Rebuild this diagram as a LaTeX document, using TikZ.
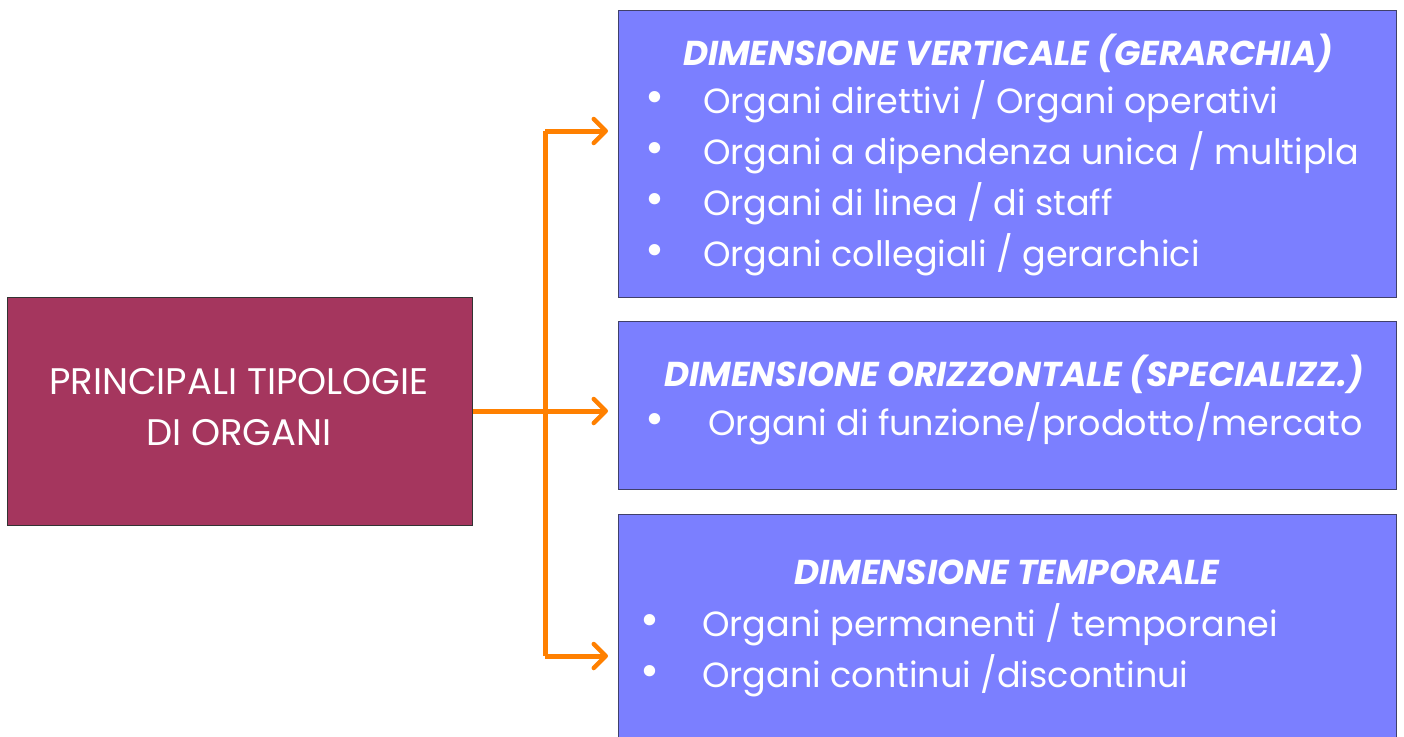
\documentclass[tikz,border=0pt]{standalone}
\usepackage{fontspec}
\setmainfont{Poppins}
\usetikzlibrary{arrows.meta}
\definecolor{wine}{HTML}{A5365E}
\definecolor{lilac}{HTML}{7B7FFF}
\definecolor{edgeblue}{HTML}{40406A}
\definecolor{arroworange}{HTML}{FF8000}
\tikzset{
  bluebox/.style={draw=edgeblue,line width=1.2pt,fill=lilac},
  title/.style={text=white,font=\fontsize{34.5}{40}\selectfont\bfseries\itshape,inner sep=0pt},
  item/.style={text=white,font=\fontsize{35}{42}\selectfont,inner sep=0pt,anchor=west},
  bul/.style={text=white,font=\fontsize{46}{50}\selectfont,inner sep=0pt},
  conn/.style={draw=arroworange,line width=5pt},
  arr/.style={conn,-{Straight Barb[length=12pt,width=24pt,line width=4.5pt,round]}}
}
\begin{document}
\begin{tikzpicture}[x=1pt,y=-1pt]
\useasboundingbox (0,0) rectangle (1404,736);
% left box
\node[draw=black!80,line width=1.2pt,fill=wine,minimum width=465pt,minimum height=228pt,anchor=north west,inner sep=0pt] (main) at (7,297) {};
\node[text=white,font=\fontsize{37}{51}\selectfont,align=center,inner sep=0pt] (maintext) at (239,407) {PRINCIPALI TIPOLOGIE\\DI ORGANI};
% blue boxes
\node[bluebox,minimum width=778pt,minimum height=287pt,anchor=north west,inner sep=0pt] (b1) at (618,10) {};
\node[bluebox,minimum width=778pt,minimum height=168pt,anchor=north west,inner sep=0pt] (b2) at (618,321) {};
\node[bluebox,minimum width=778pt,minimum height=240pt,anchor=north west,inner sep=0pt] (b3) at (618,514) {};
% box 1 text
\node[title] (t1) at (1008,53) {DIMENSIONE VERTICALE (GERARCHIA)};
\node[bul] (p11) at (655,102) {•};
\node[item] (i11) at (703,102) {Organi direttivi / Organi operativi};
\node[bul] (p12) at (655,153) {•};
\node[item] (i12) at (703,153) {Organi a dipendenza unica / multipla};
\node[bul] (p13) at (655,204) {•};
\node[item] (i13) at (703,204) {Organi di linea / di staff};
\node[bul] (p14) at (655,255) {•};
\node[item] (i14) at (703,255) {Organi collegiali / gerarchici};
% box 2 text
\node[title] (t2) at (1014,374) {DIMENSIONE ORIZZONTALE (SPECIALIZZ.)};
\node[bul] (p21) at (655,424) {•};
\node[item] (i21) at (708,424) {Organi di funzione/prodotto/mercato};
% box 3 text
\node[title] (t3) at (1007,572) {DIMENSIONE TEMPORALE};
\node[bul] (p31) at (650,625) {•};
\node[item] (i31) at (702,625) {Organi permanenti / temporanei};
\node[bul] (p32) at (650,676) {•};
\node[item] (i32) at (702,676) {Organi continui /discontinui};
% connectors
\coordinate (jt) at (545,131);
\coordinate (jm) at (545,411);
\coordinate (jb) at (545,656);
\coordinate (et) at (608,131);
\coordinate (em) at (608,411);
\coordinate (eb) at (608,656);
\draw[conn] (jt) -- (jb);
\draw[arr] (main.east |- jm) -- (em);
\draw[arr] (jt) -- (et);
\draw[arr] (jb) -- (eb);
\end{tikzpicture}
\end{document}
